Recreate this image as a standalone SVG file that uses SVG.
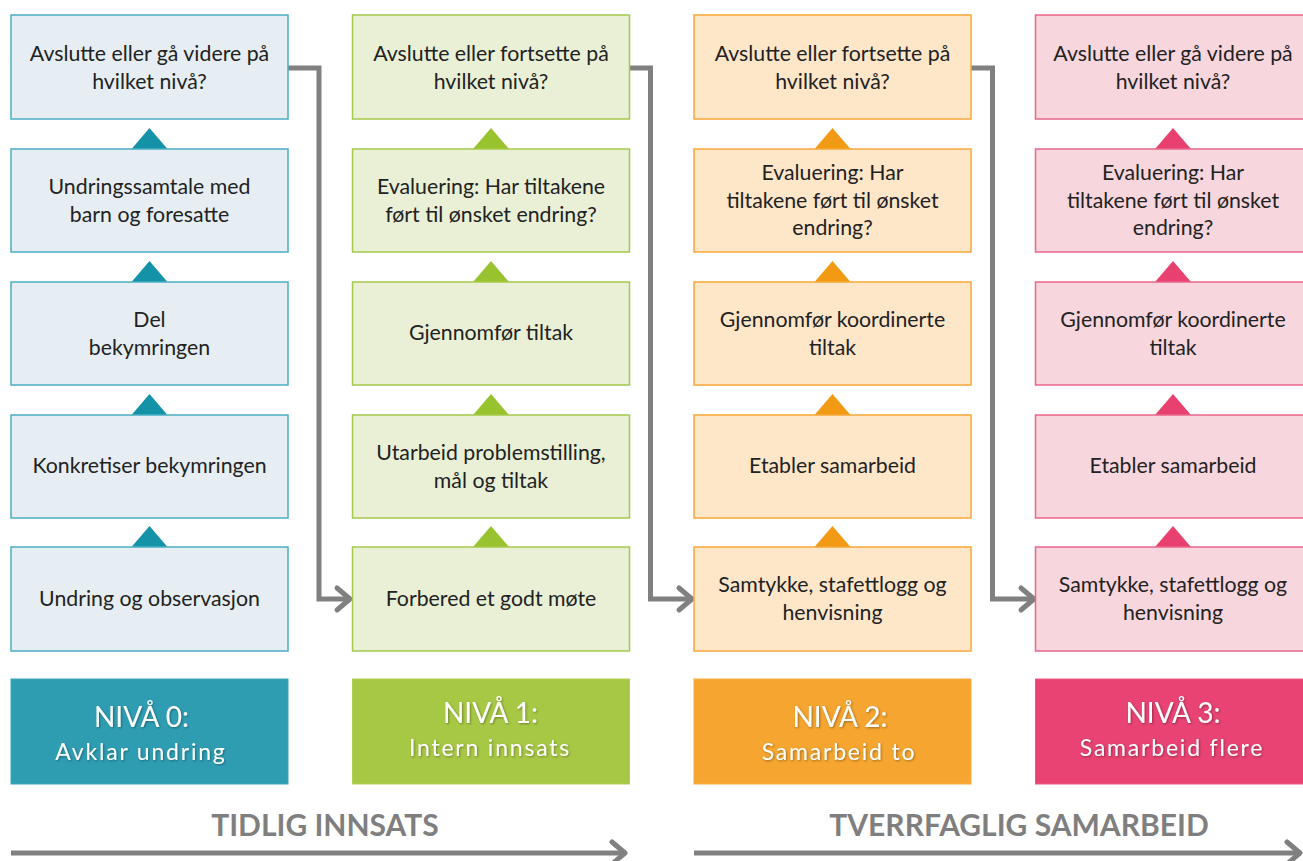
<svg xmlns="http://www.w3.org/2000/svg" width="1303" height="861" viewBox="0 0 1303 861">
<defs>
<style>
.box{stroke-width:1.5}
.t{font-family:Lato,"Open Sans","Liberation Sans",sans-serif;font-size:21.3px;fill:#222222;text-anchor:middle}
.nv{font-family:Lato,"Open Sans","Liberation Sans",sans-serif;font-size:28px;fill:#ffffff;text-anchor:middle;filter:url(#sh)}
.sub{font-family:Lato,"Open Sans","Liberation Sans",sans-serif;font-size:23px;fill:#ffffff;text-anchor:middle;letter-spacing:1.8px;filter:url(#sh)}
.ttl{font-family:Lato,"Open Sans","Liberation Sans",sans-serif;font-size:30px;font-weight:bold;fill:#7f7f7f;text-anchor:middle}
.c0 .box{fill:#e6eef3;stroke:#4bafc4}.c0 .tri{fill:#1493a8}.c0 .lvl{fill:#2e9db2;stroke:#3aa6bb}
.c1 .box{fill:#e9f0d6;stroke:#a5c94a}.c1 .tri{fill:#98c22e}.c1 .lvl{fill:#a7c845;stroke:#b0cf55}
.c2 .box{fill:#fee6c9;stroke:#f7a838}.c2 .tri{fill:#f39a14}.c2 .lvl{fill:#f5a530;stroke:#f8ae42}
.c3 .box{fill:#f8d6dd;stroke:#e8668c}.c3 .tri{fill:#e8416f}.c3 .lvl{fill:#e84372;stroke:#ec5a82}
.conn{fill:none;stroke:#808080;stroke-width:5;stroke-linejoin:miter}
.chev{fill:none;stroke:#808080;stroke-width:5;stroke-linecap:round;stroke-linejoin:round}
</style>
<filter id="sh" x="-10%" y="-30%" width="120%" height="160%">
<feDropShadow dx="1" dy="1" stdDeviation="1" flood-color="#000" flood-opacity="0.35"/>
</filter>
</defs>
<rect width="1303" height="861" fill="#ffffff"/>

<!-- connectors -->
<g id="connectors">
<path class="conn" d="M288 68 H319 V599 H348"/>
<path class="chev" d="M337 588 L350 599 L337 610"/>
<path class="conn" d="M629 68 H650.5 V599 H690"/>
<path class="chev" d="M679 588 L692 599 L679 610"/>
<path class="conn" d="M971 68 H992.5 V599 H1032"/>
<path class="chev" d="M1021 588 L1034 599 L1021 610"/>
<path class="conn" d="M11 853 H623"/>
<path class="chev" d="M612 842 L625 853 L612 864"/>
<path class="conn" d="M694 853 H1298"/>
<path class="chev" d="M1287 842 L1300 853 L1287 864"/>
</g>

<!-- column 0 -->
<g class="c0">
<g id="n0-1"><rect class="box" x="11" y="15" width="277" height="104"/><text class="t" x="149.5" y="61">Avslutte eller gå videre på</text><text class="t" x="149.5" y="89">hvilket nivå?</text></g>
<polygon class="tri" points="131.5,149 167.5,149 149.5,128"/>
<g id="n0-2"><rect class="box" x="11" y="149" width="277" height="103"/><text class="t" x="149.5" y="194">Undringssamtale med</text><text class="t" x="149.5" y="222">barn og foresatte</text></g>
<polygon class="tri" points="131.5,282 167.5,282 149.5,261"/>
<g id="n0-3"><rect class="box" x="11" y="282" width="277" height="103"/><text class="t" x="149.5" y="327">Del</text><text class="t" x="149.5" y="355">bekymringen</text></g>
<polygon class="tri" points="131.5,415 167.5,415 149.5,394"/>
<g id="n0-4"><rect class="box" x="11" y="415" width="277" height="103"/><text class="t" x="149.5" y="473">Konkretiser bekymringen</text></g>
<polygon class="tri" points="131.5,547 167.5,547 149.5,526"/>
<g id="n0-5"><rect class="box" x="11" y="547" width="277" height="104"/><text class="t" x="149.5" y="606">Undring og observasjon</text></g>
<g id="lvl0"><rect class="lvl" x="11" y="679" width="277" height="105"/><text class="nv" x="141.5" y="727">NIVÅ 0:</text><text class="sub" x="141" y="760">Avklar undring</text></g>
</g>

<!-- column 1 -->
<g class="c1">
<g id="n1-1"><rect class="box" x="352.5" y="15" width="277" height="104"/><text class="t" x="491" y="61">Avslutte eller fortsette på</text><text class="t" x="491" y="89">hvilket nivå?</text></g>
<polygon class="tri" points="473,149 509,149 491,128"/>
<g id="n1-2"><rect class="box" x="352.5" y="149" width="277" height="103"/><text class="t" x="491" y="194">Evaluering: Har tiltakene</text><text class="t" x="491" y="222">ført til ønsket endring?</text></g>
<polygon class="tri" points="473,282 509,282 491,261"/>
<g id="n1-3"><rect class="box" x="352.5" y="282" width="277" height="103"/><text class="t" x="491" y="340">Gjennomfør tiltak</text></g>
<polygon class="tri" points="473,415 509,415 491,394"/>
<g id="n1-4"><rect class="box" x="352.5" y="415" width="277" height="103"/><text class="t" x="491" y="460">Utarbeid problemstilling,</text><text class="t" x="491" y="488">mål og tiltak</text></g>
<polygon class="tri" points="473,547 509,547 491,526"/>
<g id="n1-5"><rect class="box" x="352.5" y="547" width="277" height="104"/><text class="t" x="491" y="606">Forbered et godt møte</text></g>
<g id="lvl1"><rect class="lvl" x="352.5" y="679" width="277" height="105"/><text class="nv" x="490.5" y="723">NIVÅ 1:</text><text class="sub" x="490" y="756">Intern innsats</text></g>
</g>

<!-- column 2 -->
<g class="c2">
<g id="n2-1"><rect class="box" x="694" y="15" width="277" height="104"/><text class="t" x="832.5" y="61">Avslutte eller fortsette på</text><text class="t" x="832.5" y="89">hvilket nivå?</text></g>
<polygon class="tri" points="814.5,149 850.5,149 832.5,128"/>
<g id="n2-2"><rect class="box" x="694" y="149" width="277" height="103"/><text class="t" x="832.5" y="180">Evaluering: Har</text><text class="t" x="832.5" y="207.5">tiltakene ført til ønsket</text><text class="t" x="832.5" y="235">endring?</text></g>
<polygon class="tri" points="814.5,282 850.5,282 832.5,261"/>
<g id="n2-3"><rect class="box" x="694" y="282" width="277" height="103"/><text class="t" x="832.5" y="327">Gjennomfør koordinerte</text><text class="t" x="832.5" y="355">tiltak</text></g>
<polygon class="tri" points="814.5,415 850.5,415 832.5,394"/>
<g id="n2-4"><rect class="box" x="694" y="415" width="277" height="103"/><text class="t" x="832.5" y="473">Etabler samarbeid</text></g>
<polygon class="tri" points="814.5,547 850.5,547 832.5,526"/>
<g id="n2-5"><rect class="box" x="694" y="547" width="277" height="104"/><text class="t" x="832.5" y="592">Samtykke, stafettlogg og</text><text class="t" x="832.5" y="620">henvisning</text></g>
<g id="lvl2"><rect class="lvl" x="694" y="679" width="277" height="105"/><text class="nv" x="840" y="727">NIVÅ 2:</text><text class="sub" x="839" y="760">Samarbeid to</text></g>
</g>

<!-- column 3 -->
<g class="c3">
<g id="n3-1"><rect class="box" x="1035.5" y="15" width="277" height="104"/><text class="t" x="1173" y="61">Avslutte eller gå videre på</text><text class="t" x="1173" y="89">hvilket nivå?</text></g>
<polygon class="tri" points="1155,149 1191,149 1173,128"/>
<g id="n3-2"><rect class="box" x="1035.5" y="149" width="277" height="103"/><text class="t" x="1173" y="180">Evaluering: Har</text><text class="t" x="1173" y="207.5">tiltakene ført til ønsket</text><text class="t" x="1173" y="235">endring?</text></g>
<polygon class="tri" points="1155,282 1191,282 1173,261"/>
<g id="n3-3"><rect class="box" x="1035.5" y="282" width="277" height="103"/><text class="t" x="1173" y="327">Gjennomfør koordinerte</text><text class="t" x="1173" y="355">tiltak</text></g>
<polygon class="tri" points="1155,415 1191,415 1173,394"/>
<g id="n3-4"><rect class="box" x="1035.5" y="415" width="277" height="103"/><text class="t" x="1173" y="473">Etabler samarbeid</text></g>
<polygon class="tri" points="1155,547 1191,547 1173,526"/>
<g id="n3-5"><rect class="box" x="1035.5" y="547" width="277" height="104"/><text class="t" x="1173" y="592">Samtykke, stafettlogg og</text><text class="t" x="1173" y="620">henvisning</text></g>
<g id="lvl3"><rect class="lvl" x="1035.5" y="679" width="277" height="105"/><text class="nv" x="1173" y="723">NIVÅ 3:</text><text class="sub" x="1172" y="756">Samarbeid flere</text></g>
</g>

<g id="titles">
<text class="ttl" x="325" y="836">TIDLIG INNSATS</text>
<text class="ttl" x="1019" y="836">TVERRFAGLIG SAMARBEID</text>
</g>
</svg>
